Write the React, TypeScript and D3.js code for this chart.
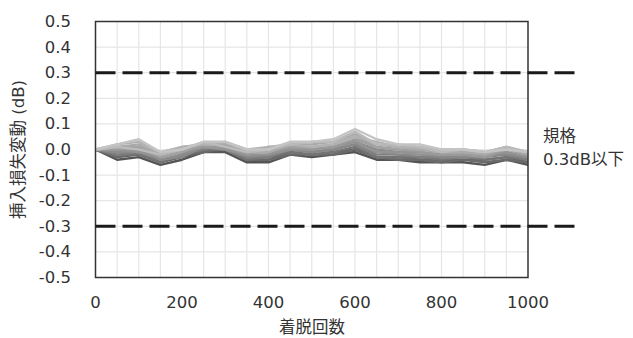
import React from "react";
import * as d3 from "d3";

// cycle counts (x)
const cycles = [0, 50, 100, 150, 200, 250, 300, 350, 400, 450, 500, 550, 600, 650, 700, 750, 800, 850, 900, 950, 1000];

// insertion loss change per sample (dB)
const s1 = [0, 0.02, 0.04, -0.01, 0.0, 0.03, 0.03, 0.0, 0.0, 0.03, 0.03, 0.04, 0.08, 0.04, 0.02, 0.02, 0.0, 0.0, -0.01, 0.0, -0.01];
const s2 = [0, 0.01, 0.02, -0.02, 0.01, 0.02, 0.02, -0.01, -0.01, 0.02, 0.02, 0.03, 0.06, 0.02, 0.01, 0.0, -0.01, -0.01, -0.02, 0.01, -0.02];
const s3 = [0, -0.01, 0.0, -0.04, -0.02, 0.01, 0.01, -0.02, -0.02, 0.01, 0.0, 0.01, 0.03, 0.0, -0.01, -0.01, -0.02, -0.02, -0.03, -0.01, -0.03];
const s4 = [0, -0.03, -0.02, -0.05, -0.03, -0.01, 0.0, -0.04, -0.04, -0.01, -0.02, -0.01, 0.0, -0.03, -0.03, -0.04, -0.04, -0.04, -0.04, -0.03, -0.05];
const s5 = [0, -0.02, -0.01, -0.03, -0.01, 0.0, 0.02, -0.03, -0.03, 0.0, -0.01, 0.0, 0.02, -0.02, -0.02, -0.03, -0.03, -0.03, -0.02, -0.02, -0.04];
const s6 = [0, 0.02, 0.03, -0.01, 0.01, 0.02, 0.03, 0.0, 0.01, 0.02, 0.01, 0.02, 0.05, 0.03, 0.01, 0.01, 0.0, 0.0, -0.01, 0.01, -0.01];
const s7 = [0, -0.04, -0.03, -0.06, -0.04, -0.01, -0.01, -0.05, -0.05, -0.02, -0.03, -0.02, -0.01, -0.04, -0.04, -0.05, -0.05, -0.05, -0.06, -0.04, -0.06];
const s8 = [0, 0.0, 0.01, -0.02, 0.0, 0.01, 0.01, -0.02, 0.01, 0.01, 0.0, 0.01, 0.04, 0.01, 0.0, -0.01, -0.02, -0.02, -0.03, 0.0, -0.02];
const s9 = [0, -0.02, -0.02, -0.05, -0.02, 0.0, 0.0, -0.04, -0.03, -0.01, -0.02, -0.01, 0.01, -0.03, -0.03, -0.03, -0.04, -0.03, -0.04, -0.03, -0.04];
const s10 = [0, 0.01, 0.01, -0.03, -0.01, 0.02, 0.02, -0.01, -0.01, 0.01, 0.01, 0.02, 0.05, 0.01, 0.0, 0.0, -0.01, -0.01, -0.02, 0.0, -0.02];
const s11 = [0, -0.01, -0.01, -0.04, -0.03, 0.01, 0.0, -0.03, -0.02, 0.0, -0.01, 0.0, 0.02, -0.01, -0.02, -0.02, -0.03, -0.03, -0.03, -0.02, -0.03];
const s12 = [0, 0.01, 0.0, -0.02, 0.0, 0.03, 0.01, -0.01, 0.0, 0.02, 0.03, 0.03, 0.07, 0.02, 0.02, 0.01, -0.01, 0.0, -0.01, 0.01, -0.01];
const s13 = [0, -0.03, -0.01, -0.05, -0.02, -0.01, 0.01, -0.04, -0.04, -0.02, -0.02, -0.02, 0.0, -0.03, -0.04, -0.04, -0.05, -0.04, -0.05, -0.04, -0.05];
const s14 = [0, 0.0, -0.01, -0.03, -0.01, 0.01, 0.0, -0.02, -0.02, 0.0, 0.0, 0.01, 0.03, -0.01, -0.01, -0.02, -0.02, -0.02, -0.02, -0.01, -0.03];

const seriesList = [s7, s4, s13, s9, s5, s11, s3, s14, s8, s10, s2, s6, s12, s1];
const seriesColors = ["#555555", "#606060", "#6a6a6a", "#747474", "#7e7e7e", "#888888", "#8c8c8c", "#939393", "#9a9a9a", "#a2a2a2", "#aaaaaa", "#b2b2b2", "#bababa", "#c4c4c4"];

const yTicks = [0.5, 0.4, 0.3, 0.2, 0.1, 0.0, -0.1, -0.2, -0.3, -0.4, -0.5];
const xTicks = [0, 200, 400, 600, 800, 1000];
const specLimits = [0.3, -0.3];

const W = 633;
const H = 338;
const left = 95.5;
const right = 528;
const top = 21.5;
const bottom = 277.5;

const font = "'DejaVu Sans', 'Noto Sans CJK JP', sans-serif";
const fs = 16.5;

export default function App() {
  const x = d3.scaleLinear().domain([0, 1000]).range([left, right]);
  const y = d3.scaleLinear().domain([-0.5, 0.5]).range([bottom, top]);
  const line = d3
    .line<number>()
    .x((_, i) => x(cycles[i]))
    .y((d) => y(d));

  const xGrid = d3.range(50, 1000, 50);
  const yGrid = d3.range(-0.4, 0.5, 0.1);

  return (
    <svg width={W} height={H} style={{ position: "absolute", left: 0, top: 0, background: "#fff" }}>
      {/* grid */}
      {xGrid.map((v) => (
        <line key={"gx" + v} x1={x(v)} x2={x(v)} y1={top} y2={bottom} stroke="#e6e6e6" strokeWidth={1.2} />
      ))}
      {yGrid.map((v, i) => (
        <line key={"gy" + i} x1={left} x2={right} y1={y(v)} y2={y(v)} stroke="#e6e6e6" strokeWidth={1.2} />
      ))}

      {/* data */}
      {seriesList.map((s, i) => (
        <path key={"s" + i} d={line(s) ?? ""} fill="none" stroke={seriesColors[i]} strokeWidth={2.4} strokeLinejoin="round" />
      ))}

      {/* frame */}
      <rect x={left} y={top} width={right - left} height={bottom - top} fill="none" stroke="#333" strokeWidth={1.5} />

      {/* spec limits */}
      {specLimits.map((v) => (
        <line key={"lim" + v} x1={left} x2={581} y1={y(v)} y2={y(v)} stroke="#1a1a1a" strokeWidth={3} strokeDasharray="20,7" />
      ))}

      {/* y ticks */}
      {yTicks.map((v) => (
        <text key={"yt" + v} x={71} y={y(v)} textAnchor="end" dominantBaseline="central" fontFamily={font} fontSize={fs} fill="#333">
          {v.toFixed(1)}
        </text>
      ))}
      {/* x ticks */}
      {xTicks.map((v) => (
        <text key={"xt" + v} x={x(v)} y={302} textAnchor="middle" dominantBaseline="central" fontFamily={font} fontSize={fs} fill="#333">
          {v}
        </text>
      ))}

      <text x={312} y={327} textAnchor="middle" dominantBaseline="central" fontFamily={font} fontSize={fs} fill="#333">
        着脱回数
      </text>
      <text
        transform={`translate(18, ${(top + bottom) / 2}) rotate(-90)`}
        textAnchor="middle"
        dominantBaseline="central"
        fontFamily={font}
        fontSize={fs}
        fill="#333"
      >
        挿入損失変動 (dB)
      </text>

      <text x={543} y={136} dominantBaseline="central" fontFamily={font} fontSize={fs} fill="#333">
        規格
      </text>
      <text x={543} y={159} dominantBaseline="central" fontFamily={font} fontSize={fs} fill="#333">
        0.3dB以下
      </text>
    </svg>
  );
}
